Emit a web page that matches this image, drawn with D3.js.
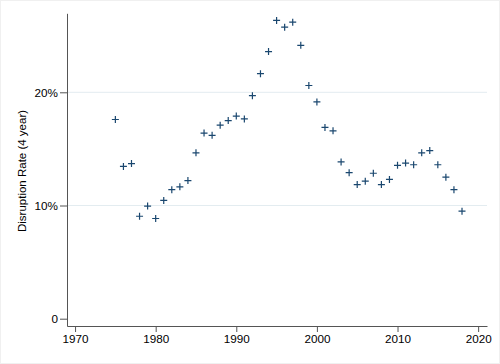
<!DOCTYPE html>
<html>
<head>
<meta charset="utf-8">
<script src="https://cdn.jsdelivr.net/npm/d3@7"></script>
<style>
  body { margin: 0; background: #fff; }
  text { font-family: "Liberation Sans", Arial, Helvetica, sans-serif; }
</style>
</head>
<body>
<svg id="chart" width="500" height="364"></svg>
<script>
var years = [1975, 1976, 1977, 1978, 1979, 1980, 1981, 1982, 1983, 1984,
             1985, 1986, 1987, 1988, 1989, 1990, 1991, 1992, 1993, 1994,
             1995, 1996, 1997, 1998, 1999, 2000, 2001, 2002, 2003, 2004,
             2005, 2006, 2007, 2008, 2009, 2010, 2011, 2012, 2013, 2014,
             2015, 2016, 2017, 2018];
var rates = [17.6, 13.45, 13.7, 9.05, 9.95, 8.85, 10.45, 11.4, 11.65, 12.2,
             14.65, 16.4, 16.2, 17.1, 17.5, 17.9, 17.65, 19.7, 21.65, 23.6,
             26.35, 25.75, 26.2, 24.15, 20.6, 19.15, 16.9, 16.6, 13.85, 12.9,
             11.85, 12.15, 12.85, 11.85, 12.3, 13.55, 13.75, 13.6, 14.65, 14.85,
             13.6, 12.5, 11.4, 9.5];
var xTicks = [1970, 1980, 1990, 2000, 2010, 2020];
var yTicks = [0, 10, 20];
var yLabel = "Disruption Rate (4 year)";

var svg = d3.select("#chart");

// faint outer frame
svg.append("rect")
    .attr("x", 0.5).attr("y", 0.5)
    .attr("width", 499).attr("height", 363)
    .attr("fill", "none")
    .attr("stroke", "#f0f0f0");

var plotLeft = 67, plotRight = 487, plotTop = 13.3, plotBottom = 326;

var xScale = d3.scaleLinear()
    .domain([1969, 2021.1])
    .range([plotLeft, plotRight]);

var yScale = d3.scaleLinear()
    .domain([-0.645, 26.98])
    .range([plotBottom, plotTop]);

// gridlines
svg.append("g")
    .selectAll("line")
    .data(yTicks.filter(function(d){ return d > 0; }))
    .enter()
    .append("line")
    .attr("x1", plotLeft)
    .attr("x2", plotRight)
    .attr("y1", function(d){ return yScale(d); })
    .attr("y2", function(d){ return yScale(d); })
    .attr("stroke", "#e3ecf0")
    .attr("stroke-width", 1);

var xAxis = d3.axisBottom(xScale)
    .tickValues(xTicks)
    .tickFormat(d3.format("d"))
    .tickSize(6)
    .tickSizeOuter(0)
    .tickPadding(3);

var yAxis = d3.axisLeft(yScale)
    .tickValues(yTicks)
    .tickFormat(function(d){ return d === 0 ? "0" : d + "%"; })
    .tickSize(7)
    .tickSizeOuter(0)
    .tickPadding(2);

var gx = svg.append("g")
    .attr("transform", "translate(0," + plotBottom + ")")
    .call(xAxis);

var gy = svg.append("g")
    .attr("transform", "translate(" + plotLeft + ",0)")
    .call(yAxis);

[gx, gy].forEach(function(g){
  g.select(".domain").attr("stroke", "#555");
  g.selectAll(".tick line").attr("stroke", "#555");
  g.selectAll(".tick text")
    .attr("fill", "#000")
    .style("font-size", "11.7px")
    .style("font-family", "'Liberation Sans', Arial, sans-serif");
});

svg.append("text")
    .attr("transform", "translate(" + 25.5 + "," + 171 + ") rotate(-90)")
    .attr("text-anchor", "middle")
    .style("font-size", "11.5px")
    .attr("fill", "#000")
    .text(yLabel);

// plus markers
var armLen = 3.5;
svg.append("g")
    .selectAll("path")
    .data(years.map(function(y, i){ return {year: y, rate: rates[i]}; }))
    .enter()
    .append("path")
    .attr("d", function(d){
      var cx = xScale(d.year), cy = yScale(d.rate);
      return "M" + (cx - armLen) + "," + cy + "H" + (cx + armLen) +
             "M" + cx + "," + (cy - armLen) + "V" + (cy + armLen);
    })
    .attr("stroke", "#1a476f")
    .attr("stroke-width", 1.2)
    .attr("fill", "none");
</script>
</body>
</html>
